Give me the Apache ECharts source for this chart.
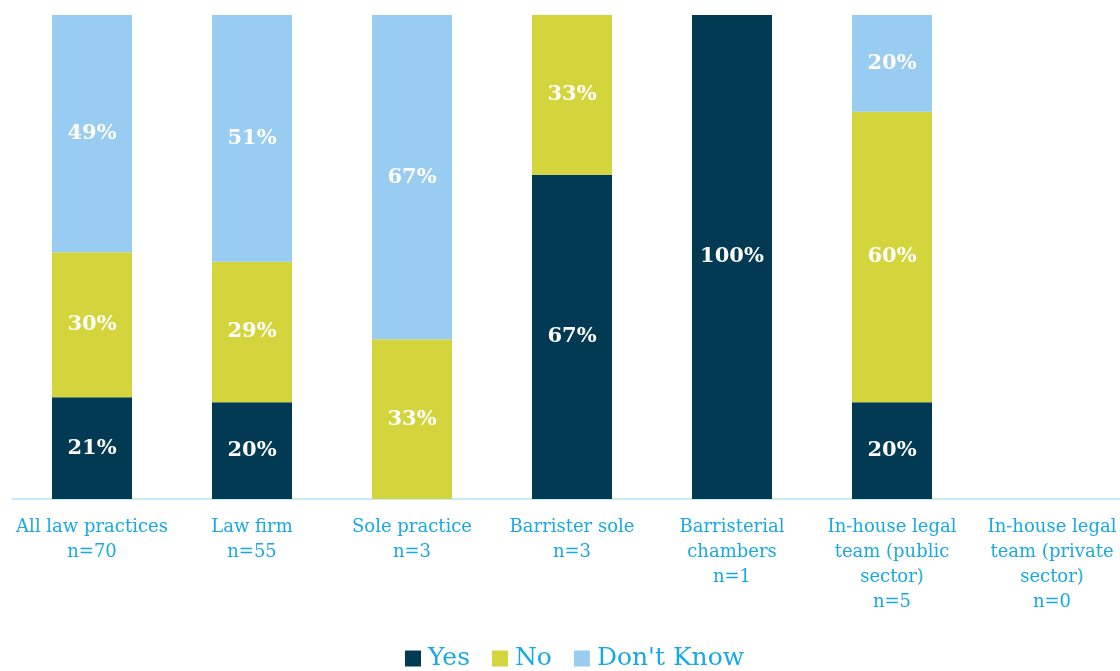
<!DOCTYPE html>
<html><head><meta charset="utf-8">
<script src="https://cdn.jsdelivr.net/npm/echarts@6/dist/echarts.min.js"></script>
<style>html,body{margin:0;padding:0;background:#fff}#c{width:1120px;height:671px}</style>
</head><body><div id="c"></div>
<script>
const categories = ['All law practices\nn=70','Law firm\nn=55','Sole practice\nn=3','Barrister sole\nn=3','Barristerial\nchambers\nn=1','In-house legal\nteam (public\nsector)\nn=5','In-house legal\nteam (private\nsector)\nn=0'];
const yesValues = [21, 20, 0, 67, 100, 20, 0];
const noValues = [30, 29, 33, 33, 0, 60, 0];
const dontKnowValues = [49, 51, 67, 0, 0, 20, 0];
const seriesNames = ['Yes', 'No', "Don't Know"];
const colors = ['#033a53', '#d4d43d', '#98ccf0'];
const font = "'DejaVu Serif', serif";
const chart = echarts.init(document.getElementById('c'));
const lbl = {show:true, position:'inside', color:'#fff', fontWeight:'bold', fontSize:21, fontFamily:font,
  formatter: p => p.value > 0 ? p.value + '%' : ''};
chart.setOption({
  animation:false,
  grid:{left:12, top:15, width:1120, bottom:172, containLabel:false, outerBoundsMode:'none'},
  legend:{top:641, left:400, itemWidth:16, itemHeight:16, itemGap:22, icon:'rect',
    textStyle:{fontSize:25, color:'#18a9e4', fontFamily:font, padding:[0,0,0,2]}, data:seriesNames},
  xAxis:{type:'category', data:categories, axisTick:{show:false},
    axisLine:{lineStyle:{color:'#c6e9f9', width:2}},
    axisLabel:{color:'#18a9e4', fontSize:18, fontFamily:font, lineHeight:25, margin:16, interval:0}},
  yAxis:{type:'value', min:0, max:100, show:false, splitLine:{show:false}},
  series:[
    {name:seriesNames[0], type:'bar', stack:'s', data:yesValues, barWidth:80, itemStyle:{color:colors[0]}, label:lbl},
    {name:seriesNames[1], type:'bar', stack:'s', data:noValues, barWidth:80, itemStyle:{color:colors[1]}, label:lbl},
    {name:seriesNames[2], type:'bar', stack:'s', data:dontKnowValues, barWidth:80, itemStyle:{color:colors[2]}, label:lbl}
  ]
});
</script></body></html>
